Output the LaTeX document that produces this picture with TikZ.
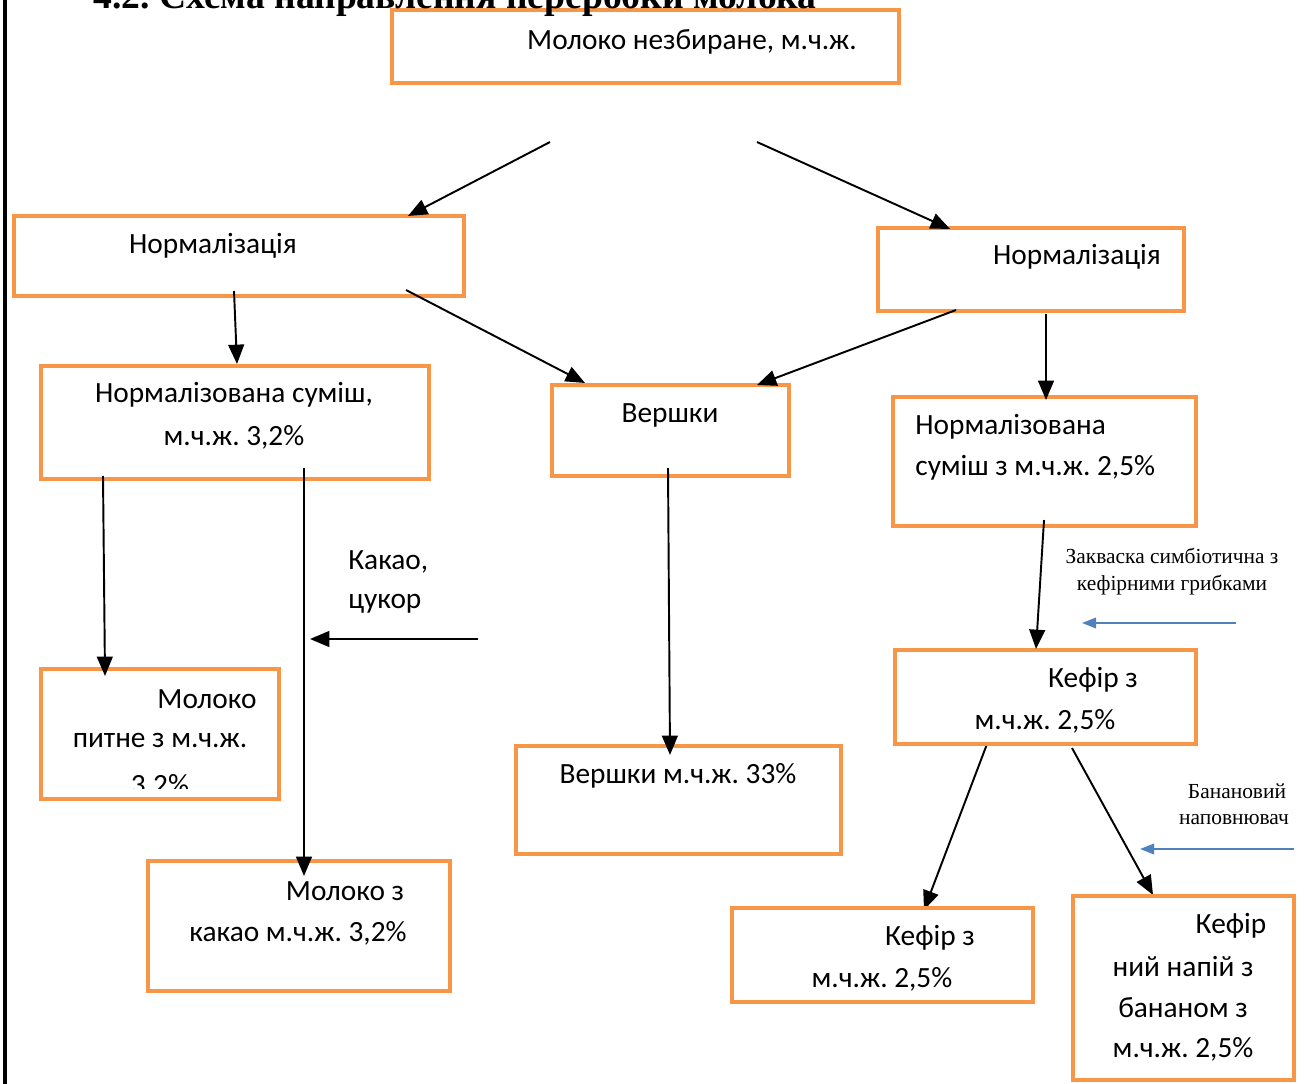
\documentclass[tikz,border=0pt]{standalone}
\usepackage{fontspec}
\setmainfont{Liberation Serif}
\newfontfamily\boxfont{Carlito}
\usetikzlibrary{
  arrows.meta,
  calc,
  backgrounds
}
\definecolor{frame}{RGB}{247,150,70}
\definecolor{feed}{RGB}{79,129,189}
\frenchspacing

\begin{document}
\begin{tikzpicture}[
  x=0.02cm, y=-0.02cm,
  every node/.style={font=\boxfont\fontsize{16.7}{20}\selectfont, inner sep=0pt},
  stage/.style n args={2}{draw=frame, line width=2.3pt,
              minimum width=#1*0.02cm, minimum height=#2*0.02cm},
  note/.style={font=\fontsize{12.2}{14}\selectfont},
  flow/.style={-{Triangle[length=11pt,width=9pt]}, line width=1.1pt},
  feedin/.style={-{Triangle[length=8pt,width=6pt]}, line width=1.1pt, feed}
]
\useasboundingbox (0,0) rectangle (1304,1084);

% page rule
\draw[line width=2.3pt] (5,0) -- (5,1084);

% boxes
\node[stage={507}{73}] (whole) at (645.5,46.5) {};
\node[stage={450}{80}] (normL) at (239,256) {};
\node[stage={306}{83}] (normR) at (1031,269.5) {};
\node[stage={388}{113}] (mixL) at (235,422.5) {};
\node[stage={237}{91}] (cream) at (670.5,430.5) {};
\node[stage={303}{129}] (mixR) at (1044.5,461.5) {};
\node[stage={238}{130}] (milkD) at (160,734) {};
\node[stage={302}{130}] (milkC) at (299,926) {};
\node[stage={325}{108}] (cream33) at (678.5,800) {};
\node[stage={301}{94}] (kefA) at (1045.5,697) {};
\node[stage={301}{94}, fill=white] (kefB) at (882.5,955) {};
\node[stage={221}{184}, fill=white] (kefC) at (1183.5,988) {};

% title, partly off the page
\node[anchor=base west, font=\bfseries\fontsize{21.4}{25}\selectfont] (title) at (93,9)
  {4.2. Схема направлення переробки молока};

% box texts
\node (t-whole) at (692,42) {Молоко незбиране, м.ч.ж.};
\node (t-normL) at (213,246) {Нормалізація};
\node (t-normR) at (1077,257) {Нормалізація};
\node (t-mixL1) at (234,395) {Нормалізована суміш,};
\node (t-mixL2) at (234,437) {м.ч.ж. 3,2\%};
\node (t-cream) at (670,415) {Вершки};
\node[anchor=west] (t-mixR1) at (915,427) {Нормалізована};
\node[anchor=west] (t-mixR2) at (915,468) {суміш з м.ч.ж. 2,5\%};
\node (t-milkD1) at (207,699) {Молоко};
\node (t-milkD2) at (160,740) {питне з м.ч.ж.};
\begin{scope}
  \clip (40,760) rectangle (280,788);
  \node (t-milkD3) at (160,786) {3,2\%};
\end{scope}
\node (t-milkC1) at (345,891) {Молоко з};
\node (t-milkC2) at (298,933) {какао м.ч.ж. 3,2\%};
\node (t-cream33) at (678,776) {Вершки м.ч.ж. 33\%};
\node (t-kefA1) at (1093,680) {Кефір з};
\node (t-kefA2) at (1045,721) {м.ч.ж. 2,5\%};
\node (t-kefB1) at (930,938) {Кефір з};
\node (t-kefB2) at (882,979) {м.ч.ж. 2,5\%};
\node (t-kefC1) at (1231,926) {Кефір};
\node (t-kefC2) at (1183,967) {ний напій з};
\node (t-kefC3) at (1183,1008) {бананом з};
\node (t-kefC4) at (1183,1049) {м.ч.ж. 2,5\%};

% added ingredients
\node[anchor=west] (cocoa1) at (348,562) {Какао,};
\node[anchor=west] (cocoa2) at (348,604) {цукор};
\node[note] (starter1) at (1172,556) {Закваска симбіотична з};
\node[note] (starter2) at (1172,585) {кефірними грибками};
\node[note] (banana1) at (1237,791) {Банановий};
\node[note] (banana2) at (1234,820) {наповнювач};

\coordinate (cocoaIn) at (478,639);
\coordinate (cocoaTo) at (310,639);
\coordinate (starterIn) at (1236,623);
\coordinate (starterTo) at (1082,623);
\coordinate (bananaIn) at (1294,849);
\coordinate (bananaTo) at (1140,849);

% flow arrows
\draw[flow] ($(whole.south)+(-95.5,57)$) -- ($(normL.north)+(169,2)$);
\draw[flow] ($(whole.south)+(111.5,57)$) -- ($(normR.north)+(-81,3)$);
\draw[flow] ($(normL.south)+(-5,-7)$) -- ($(mixL.north)+(2,0)$);
\draw[flow] ($(normL.south)+(167,-8)$) -- ($(cream.north)+(-85.5,0)$);
\draw[flow] ($(normR.south)+(-75,-3)$) -- ($(cream.north)+(86.5,2)$);
\draw[flow] ($(normR.south)+(15,1)$) -- ($(mixR.north)+(1.5,5)$);
\draw[flow] ($(mixL.south)+(-132,-5)$) -- ($(milkD.north)+(-55,9)$);
\draw[flow] ($(mixL.south)+(69,-13)$) -- ($(milkC.north)+(5,17)$);
\draw[flow] (cocoaIn) -- (cocoaTo);
\draw[flow] ($(cream.south)+(-2.5,-10)$) -- ($(cream33.north)+(-8.5,11)$);
\draw[flow] ($(mixR.south)+(-0.5,-8)$) -- ($(kefA.north)+(-9.5,1)$);
\begin{scope}[on background layer]
  \draw[flow] ($(kefA.south)+(-58.5,-2)$) -- ($(kefB.north)+(41.5,4)$);
  \draw[flow] ($(kefA.south)+(26.5,2)$) -- ($(kefC.north)+(-30.5,1)$);
\end{scope}
\draw[feedin] (starterIn) -- (starterTo);
\draw[feedin] (bananaIn) -- (bananaTo);

\end{tikzpicture}
\end{document}
